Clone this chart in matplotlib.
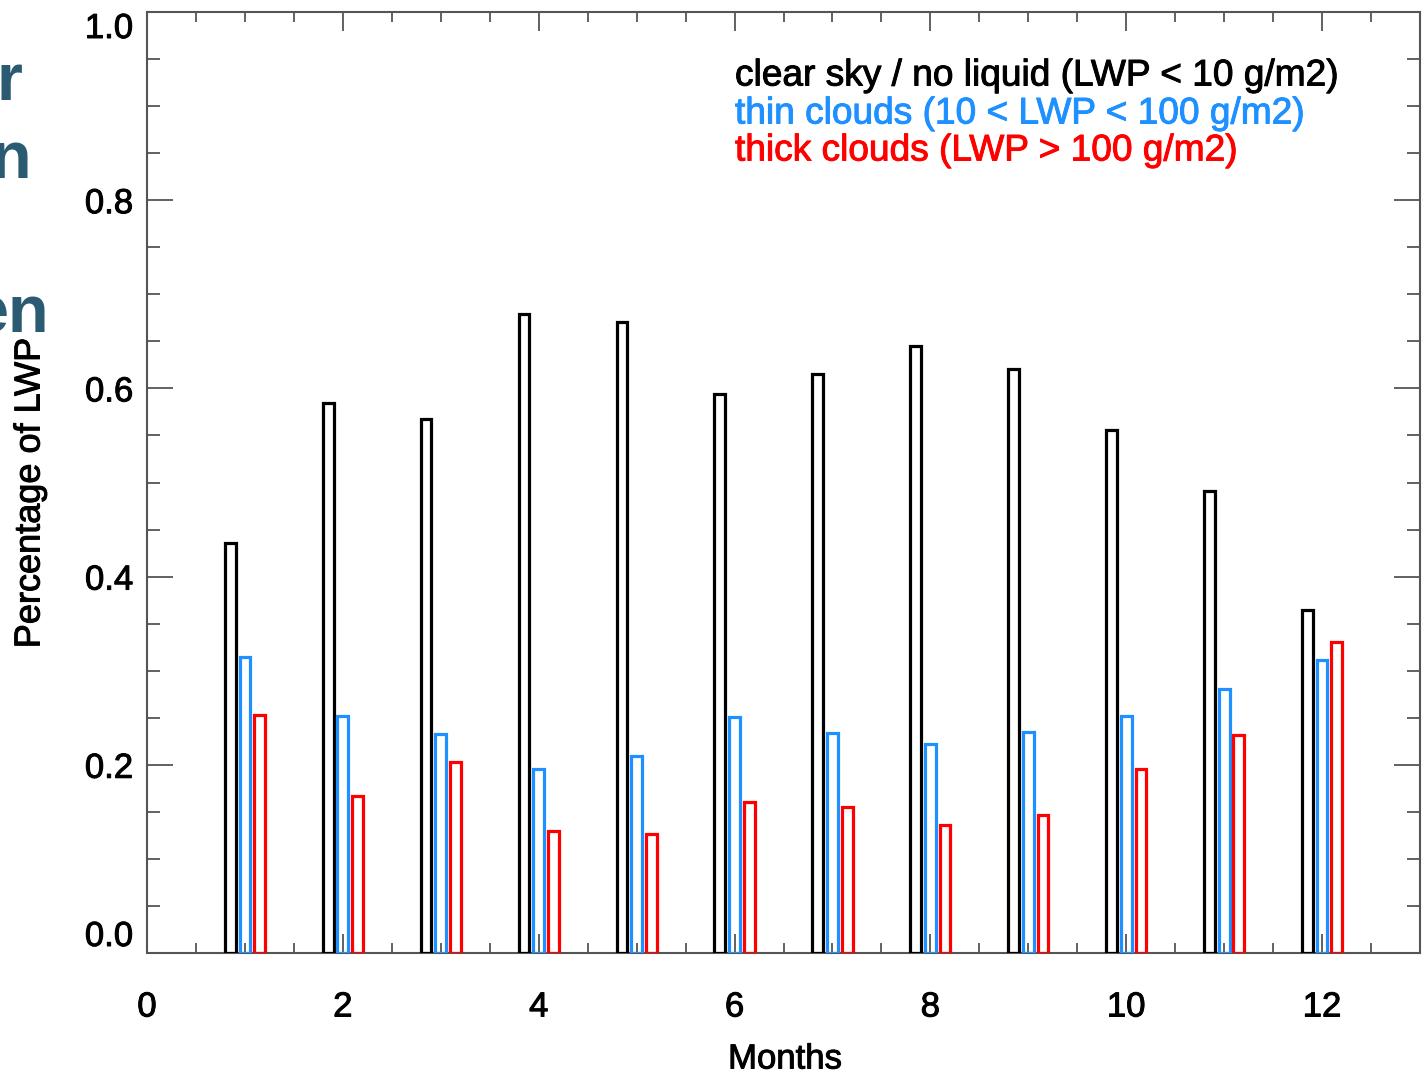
import matplotlib
matplotlib.use("Agg")
import matplotlib.pyplot as plt
import matplotlib.patheffects as pe
import numpy as np
from matplotlib.ticker import MultipleLocator, FixedLocator, FormatStrFormatter

plt.rcParams['font.family'] = ['Liberation Sans', 'DejaVu Sans']

months = [1, 2, 3, 4, 5, 6, 7, 8, 9, 10, 11, 12]
clear_sky = [0.436, 0.584, 0.568, 0.679, 0.671, 0.594, 0.615, 0.645, 0.621, 0.556, 0.491, 0.364]
thin_clouds = [0.315, 0.252, 0.233, 0.196, 0.209, 0.251, 0.234, 0.222, 0.235, 0.252, 0.281, 0.311]
thick_clouds = [0.253, 0.167, 0.203, 0.130, 0.126, 0.160, 0.155, 0.136, 0.147, 0.196, 0.232, 0.330]

labels = ['clear sky / no liquid (LWP < 10 g/m2)',
          'thin clouds (10 < LWP < 100 g/m2)',
          'thick clouds (LWP > 100 g/m2)']
colors = ['black', '#1E90FF', '#FF0000']
series = [clear_sky, thin_clouds, thick_clouds]
offsets = [-0.15, 0.0, 0.15]
y_major = [0.0, 0.2, 0.4, 0.6, 0.8, 1.0]
x_major = [0, 2, 4, 6, 8, 10, 12]

W, H = 1426, 1077
fig = plt.figure(figsize=(W / 100, H / 100), dpi=100)
ax = fig.add_axes([147 / W, 1 - 953 / H, (1420 - 147) / W, (953 - 12) / H])

x = np.array(months, dtype=float)
for vals, col, off in zip(series, colors, offsets):
    ax.bar(x + off, vals, width=0.11, facecolor='none', edgecolor=col, linewidth=2.3, zorder=3)

ax.set_xlim(0, 13)
ax.set_ylim(0, 1.0)
ax.xaxis.set_major_locator(FixedLocator(x_major))
ax.xaxis.set_minor_locator(MultipleLocator(0.5))
ax.yaxis.set_major_locator(FixedLocator(y_major))
ax.yaxis.set_minor_locator(MultipleLocator(0.05))
ax.xaxis.set_major_formatter(FormatStrFormatter('%d'))
ax.yaxis.set_major_formatter(FormatStrFormatter('%.1f'))

tick_col = '#555555'
for s in ax.spines.values():
    s.set_color(tick_col)
    s.set_linewidth(1.5)
ax.tick_params(which='both', direction='in', top=True, right=True, color=tick_col, width=1.3, labelsize=25)
ax.tick_params(axis='x', which='major', length=14, pad=27)
ax.tick_params(axis='x', which='minor', length=7)
ax.tick_params(axis='y', which='major', length=19, pad=10)
ax.tick_params(axis='y', which='minor', length=9.5)

thick = [pe.withStroke(linewidth=0.7, foreground='black')]

fig.canvas.draw()
for t in ax.yaxis.get_major_ticks():
    loc = t.get_loc()
    if loc is None:
        continue
    if abs(loc - 0.0) < 1e-9:
        t.label1.set_verticalalignment('bottom')
    elif abs(loc - 1.0) < 1e-9:
        t.label1.set_verticalalignment('top')
for t in ax.xaxis.get_major_ticks() + ax.yaxis.get_major_ticks():
    t.label1.set_path_effects(thick)

ax.set_ylabel('Percentage of LWP', fontsize=26, va='center', path_effects=thick)
ax.yaxis.set_label_coords((30 - 147) / 1273, (953 - 493) / 941)
ax.set_xlabel('Months', fontsize=25, va='center', path_effects=thick)
ax.xaxis.set_label_coords((785 - 147) / 1273, (953 - 1059) / 941)

for lab, col, yp in zip(labels, colors, [76, 114, 151]):
    ax.text((735 - 147) / 1273, (953 - yp) / 941, lab, color=col, fontsize=26.7,
            transform=ax.transAxes, ha='left', va='center',
            path_effects=[pe.withStroke(linewidth=0.7, foreground=col)])

teal = '#2B5B72'
for t, xr, yb in [('r', 22, 100), ('n', 31, 178), ('en', 49, 332)]:
    fig.text(xr / W, 1 - yb / H, t, color=teal, fontsize=48, fontweight='bold',
             ha='right', va='baseline')

fig.savefig('out.png', dpi=100)
